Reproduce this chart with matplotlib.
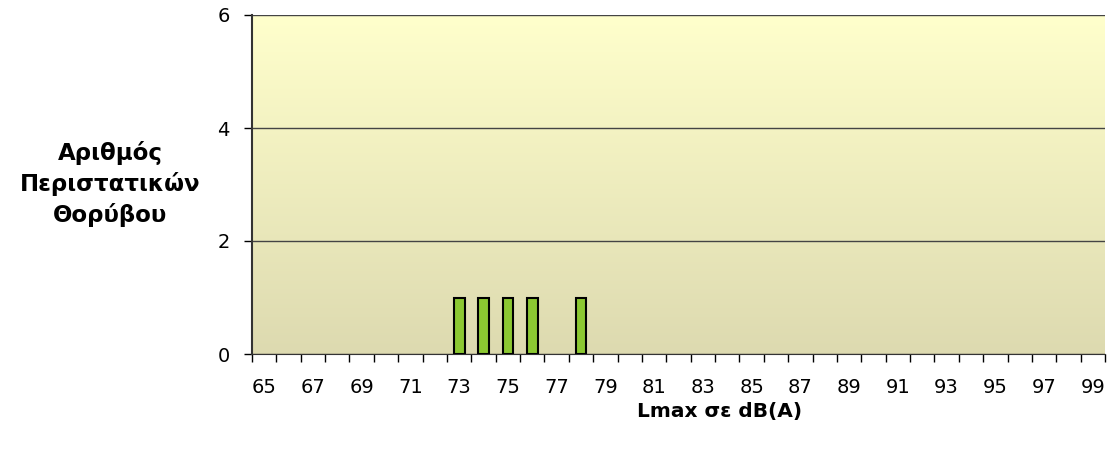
import numpy as np
import matplotlib.pyplot as plt
from matplotlib.colors import LinearSegmentedColormap

# data
levels = list(range(65, 100))
counts = [0] * len(levels)
for lv in [73, 74, 75, 76, 78]:
    counts[levels.index(lv)] = 1
tick_labels = [str(v) if (v - 65) % 2 == 0 else "" for v in levels]

fig = plt.figure(figsize=(11.17, 4.5), dpi=100)
ax = fig.add_axes([252 / 1117, 1 - 354 / 450, (1105 - 252) / 1117, (354 - 15) / 450])

# background gradient
grad = np.linspace(0, 1, 256).reshape(-1, 1)
cmap = LinearSegmentedColormap.from_list("bg", ["#FFFFCC", "#DDDAB0"])
ax.imshow(grad, aspect="auto", cmap=cmap, extent=[0, 1, 0, 1],
          transform=ax.transAxes, zorder=0)

x = np.arange(len(levels))
cnt = np.array(counts)
nz = cnt > 0
ax.bar(x[nz], cnt[nz], width=0.44, color="#8CC832", edgecolor="black",
       linewidth=1.5, zorder=3)

ax.set_xlim(-0.5, len(levels) - 0.5)
ax.set_ylim(0, 6)
ax.set_yticks([0, 2, 4, 6])
ax.yaxis.grid(True, color="#444444", linewidth=1, zorder=1)
ax.set_axisbelow(True)

ax.set_xticks(x)
ax.set_xticklabels(tick_labels)
ax.set_xticks(np.arange(-0.5, len(levels)), minor=True)
ax.tick_params(axis="x", which="major", length=0, pad=17, labelsize=14)
ax.tick_params(axis="x", which="minor", length=6, width=1, color="black")
ax.tick_params(axis="y", length=6, width=1, labelsize=14, pad=10)

for s in ["top", "right"]:
    ax.spines[s].set_visible(False)
ax.spines["left"].set_color("#333333")
ax.spines["left"].set_linewidth(1.5)
ax.spines["bottom"].set_color("#333333")

fig.text(720 / 1117, 1 - 411 / 450, "Lmax σε dB(A)", ha="center", va="center",
         fontsize=14.5, fontweight="bold")
fig.text(110 / 1117, 1 - 184 / 450, "Αριθμός\nΠεριστατικών\nΘορύβου",
         ha="center", va="center", fontsize=16.5, fontweight="bold",
         linespacing=1.35)

fig.savefig("out.png", dpi=100)
